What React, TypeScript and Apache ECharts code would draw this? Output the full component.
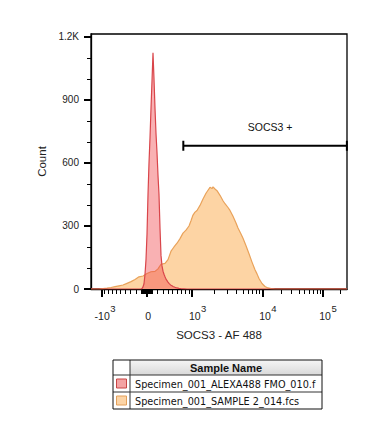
import React, { useEffect, useRef } from "react";
import * as echarts from "echarts";

// ---------- data ----------
// Histograms in display channels (0..256 across the logicle axis), counts per channel
const fmoHist: number[][] = [
  [0, 0], [50, 0], [51, 2], [52, 10], [53, 25], [54, 70], [55, 140], [56, 260], [57, 450],
  [58, 600], [59, 720], [60, 860], [61, 990], [62, 1125], [63, 1000], [64, 860], [65, 740],
  [66, 650], [67, 540], [68, 450], [69, 290], [70, 160], [71, 110], [72, 85], [73, 70],
  [74, 58], [75, 47], [76, 40], [77, 33], [78, 27], [79, 22], [80, 18], [81, 15], [82, 12],
  [84, 8], [86, 5], [88, 3], [90, 2], [93, 1], [96, 0], [256, 0],
];
const sampleHist: number[][] = [
  [0, 0], [8, 0], [12, 2], [16, 4], [20, 7], [24, 11], [28, 15], [32, 19], [36, 27], [40, 35],
  [44, 45], [48, 58], [52, 62], [56, 74], [60, 82], [64, 84], [67, 96], [70, 118], [74, 122],
  [77, 140], [80, 180], [83, 200], [86, 218], [89, 240], [92, 266], [95, 280], [98, 300],
  [100, 325], [102, 352], [104, 366], [106, 374], [109, 398], [112, 428], [115, 456],
  [117, 470], [119, 484], [121, 478], [122, 486], [124, 476], [126, 468], [129, 446],
  [132, 420], [134, 406], [137, 388], [139, 374], [142, 346], [145, 314], [147, 290],
  [150, 262], [152, 242], [155, 206], [158, 168], [161, 128], [164, 92], [166, 72], [168, 50],
  [171, 26], [174, 12], [177, 5], [180, 2], [184, 0], [256, 0],
];

const yTickValues = [0, 300, 600, 900, 1200];
const yTickLabels = ["0", "300", "600", "900", "1.2K"];
const yMinorValues = [100, 200, 400, 500, 700, 800, 1000, 1100];

const xMajorValues = [-1000, 0, 1000, 10000, 100000];
const xMajorBases = ["-10", "0", "10", "10", "10"];
const xMajorExps = ["3", "", "3", "4", "5"];
const xMinorDecades = [-100, -10, 10, 100, 1000, 10000, 100000];
const xMinorMultipliers = [1, 2, 3, 4, 5, 6, 7, 8, 9];

const gateRange = [750, 262144];
const gateCount = 682;
const gateLabel = "SOCS3 +";

const sampleNames = ["Specimen_001_ALEXA488 FMO_010.f", "Specimen_001_SAMPLE 2_014.fcs"];
const legendHeader = "Sample Name";
const xAxisTitle = "SOCS3 - AF 488";
const yAxisTitle = "Count";

// ---------- logicle scale ----------
const LN10 = Math.log(10);
const L_T = 262144;
const L_M = 4.414;
const L_W = 0.96;
const CHANNELS = 256;
const lm = L_M * LN10;
const lw = L_W * LN10;
const lp = (() => {
  let lo = 1.0001, hi = 1000;
  for (let i = 0; i < 200; i++) {
    const mid = (lo + hi) / 2;
    const f = (2 * mid * Math.log(mid)) / (mid + 1);
    if (f > lw) hi = mid; else lo = mid;
  }
  return (lo + hi) / 2;
})();
function logicleS(x: number): number {
  if (x < lw) return -logicleS(2 * lw - x);
  const u = x - lw;
  return L_T * Math.exp(-(lm - lw)) * (Math.exp(u) - lp * lp * Math.exp(-u / lp) + lp * lp - 1);
}
function toChannel(v: number): number {
  let lo = -lm, hi = lm * 1.3;
  for (let i = 0; i < 100; i++) {
    const mid = (lo + hi) / 2;
    if (logicleS(mid) < v) lo = mid; else hi = mid;
  }
  return (((lo + hi) / 2) / lm) * CHANNELS;
}

const xMinorValues: number[] = [];
xMinorDecades.forEach((d) => {
  xMinorMultipliers.forEach((k) => {
    const v = d * k;
    if (xMajorValues.indexOf(v) < 0 && v >= -1368 && v <= L_T) xMinorValues.push(v);
  });
});

// ---------- styles ----------
const FONT = "'Liberation Sans', Arial, sans-serif";
const TEXT = "#222";
const red = { line: "#D9454A", fill: "rgba(240,70,75,0.42)", swatch: "#F4A3A3", border: "#C84545" };
const orange = { line: "#E9A25A", fill: "#FDD4A4", swatch: "#FCD4A6", border: "#E3A05A" };

export default function App() {
  const ref = useRef<HTMLDivElement>(null);
  useEffect(() => {
    if (!ref.current) return;
    const chart = echarts.init(ref.current, null, { renderer: "svg" });

    const labelData = xMajorValues.map((v, i) => [toChannel(v), 0, i]);
    const gateData = [[toChannel(gateRange[0]), toChannel(gateRange[1]), gateCount]];

    const legendX = 113, legendY = 360, legendW = 209, colW = 17, headH = 15, rowH = 17;
    const legendRows = sampleNames.map((name, i) => {
      const c = i === 0 ? red : orange;
      const top = legendY + headH + i * rowH;
      return [
        { type: "rect", shape: { x: legendX + 3.5, y: top + 4, width: 10, height: 9 }, style: { fill: c.swatch, stroke: c.border, lineWidth: 1 } },
        {
          type: "text", x: legendX + colW + 5, y: top + rowH / 2 + 0.5,
          style: { text: name, fill: "#111", font: "9.7px 'DejaVu Sans', Verdana, sans-serif", verticalAlign: "middle", align: "left", width: legendW - colW - 4, overflow: "truncate", ellipsis: "" },
        },
        { type: "line", shape: { x1: legendX, y1: top, x2: legendX + legendW, y2: top }, style: { stroke: "#333", lineWidth: 1 } },
      ];
    }).flat();

    chart.setOption({
      animation: false,
      backgroundColor: "#fff",
      grid: { left: 91, top: 34, width: 256, height: 255, show: true, borderColor: "#000", borderWidth: 1.3 },
      xAxis: [
        {
          type: "value", min: 0, max: CHANNELS, position: "bottom",
          axisLine: { show: true, lineStyle: { color: "#000", width: 1.3 } },
          axisTick: { show: true, inside: false, length: 8, lineStyle: { color: "#000", width: 2 }, customValues: xMajorValues.map(toChannel) },
          axisLabel: { show: false },
          splitLine: { show: false },
          name: xAxisTitle, nameLocation: "middle", nameGap: 40,
          nameTextStyle: { fontFamily: FONT, fontSize: 11.5, color: TEXT },
        },
        {
          type: "value", min: 0, max: CHANNELS, position: "bottom",
          axisLine: { show: false },
          axisTick: { show: true, inside: false, length: 5, lineStyle: { color: "#000", width: 1 }, customValues: xMinorValues.map(toChannel) },
          axisLabel: { show: false },
          splitLine: { show: false },
        },
      ],
      yAxis: [
        {
          type: "value", min: 0, max: 1214, position: "left",
          axisLine: { show: true, lineStyle: { color: "#000", width: 1.3 } },
          axisTick: { show: true, inside: false, length: 7, lineStyle: { color: "#000", width: 2 }, customValues: yTickValues },
          axisLabel: {
            show: true, customValues: yTickValues, margin: 12, fontFamily: FONT, fontSize: 10, color: TEXT,
            formatter: (v: number) => yTickLabels[yTickValues.indexOf(v)] ?? "",
          },
          splitLine: { show: false },
          name: yAxisTitle, nameLocation: "middle", nameGap: 36,
          nameTextStyle: { fontFamily: FONT, fontSize: 11.5, color: TEXT },
        },
        {
          type: "value", min: 0, max: 1214, position: "left",
          axisLine: { show: false },
          axisTick: { show: true, inside: false, length: 4, lineStyle: { color: "#000", width: 1 }, customValues: yMinorValues },
          axisLabel: { show: false },
          splitLine: { show: false },
        },
      ],
      series: [
        {
          name: sampleNames[1], type: "line", data: sampleHist, showSymbol: false, symbol: "none",
          lineStyle: { color: orange.line, width: 1.2 }, areaStyle: { color: orange.fill, opacity: 1 }, z: 2,
        },
        {
          name: sampleNames[0], type: "line", data: fmoHist, showSymbol: false, symbol: "none",
          lineStyle: { color: red.line, width: 1.2 }, areaStyle: { color: red.fill, opacity: 1 }, z: 3,
        },
        {
          type: "custom", silent: true, clip: false, z: 5,
          data: labelData, encode: { x: 0, y: 1 },
          renderItem: (params: any, api: any) => {
            const idx = api.value(2);
            const pt = api.coord([api.value(0), 0]);
            const base = xMajorBases[idx];
            const exp = xMajorExps[idx];
            if (!exp) {
              return {
                type: "text", x: pt[0] + 1.5, y: pt[1] + 27,
                style: { text: base, fill: TEXT, font: `10.5px ${FONT}`, align: "center", verticalAlign: "middle" },
              };
            }
            return {
              type: "group",
              children: [
                { type: "text", x: pt[0] + 8.5, y: pt[1] + 27, style: { text: base, fill: TEXT, font: `10.5px ${FONT}`, align: "right", verticalAlign: "middle" } },
                { type: "text", x: pt[0] + 9, y: pt[1] + 19.5, style: { text: exp, fill: TEXT, font: `9.5px ${FONT}`, align: "left", verticalAlign: "middle" } },
              ],
            };
          },
        },
        {
          type: "custom", silent: true, clip: false, z: 6,
          data: gateData, encode: { x: [0, 1], y: 2 },
          renderItem: (params: any, api: any) => {
            const p1 = api.coord([api.value(0), api.value(2)]);
            const p2 = api.coord([api.value(1), api.value(2)]);
            const st = { stroke: "#000", lineWidth: 2 };
            return {
              type: "group",
              children: [
                { type: "line", shape: { x1: p1[0], y1: p1[1], x2: p2[0], y2: p2[1] }, style: st },
                { type: "line", shape: { x1: p1[0], y1: p1[1] - 5, x2: p1[0], y2: p1[1] + 5 }, style: st },
                { type: "line", shape: { x1: p2[0], y1: p2[1] - 5, x2: p2[0], y2: p2[1] + 5 }, style: st },
                {
                  type: "text", x: (p1[0] + p2[0]) / 2 + 5, y: p1[1] - 19,
                  style: { text: gateLabel, fill: "#111", font: `10.5px ${FONT}`, align: "center", verticalAlign: "middle" },
                },
              ],
            };
          },
        },
      ],
      graphic: [
        {
          type: "rect", shape: { x: legendX + colW, y: legendY, width: legendW - colW, height: headH },
          style: { fill: { type: "linear", x: 0, y: 0, x2: 0, y2: 1, colorStops: [{ offset: 0, color: "#f5f5f5" }, { offset: 1, color: "#d9d9d9" }] } },
        },
        {
          type: "text", x: legendX + colW + (legendW - colW) / 2, y: legendY + headH / 2 + 0.5,
          style: { text: legendHeader, fill: "#111", font: `bold 11px ${FONT}`, align: "center", verticalAlign: "middle" },
        },
        ...legendRows,
        { type: "line", shape: { x1: legendX + colW, y1: legendY, x2: legendX + colW, y2: legendY + headH + 2 * rowH }, style: { stroke: "#333", lineWidth: 1 } },
        {
          type: "rect", shape: { x: legendX, y: legendY, width: legendW, height: headH + 2 * rowH },
          style: { fill: "none", stroke: "#111", lineWidth: 1 },
        },
      ],
    });
    return () => chart.dispose();
  }, []);
  return <div ref={ref} style={{ position: "fixed", left: 0, top: 0, width: 368, height: 430 }} />;
}
